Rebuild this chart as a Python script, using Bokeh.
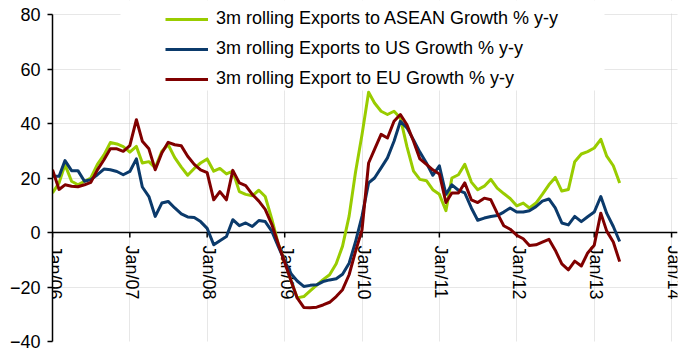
import math
from datetime import datetime
import pandas as pd
from bokeh.plotting import figure
from bokeh.models import (Range1d, FixedTicker, Span, Legend, LegendItem,
                          BoxAnnotation, ColumnDataSource)
from bokeh.core.properties import value
from bokeh.embed import file_html
from bokeh.resources import INLINE

# ---------------- data ----------------
months = pd.date_range("2006-01-01", periods=89, freq="MS")

asean = [14.5, 18.2, 24.9, 18.8, 17.5, 18.8, 20.0, 25.0, 28.5, 33.0,
         32.5, 31.5, 29.5, 31.6, 25.5, 26.0, 23.7, 29.8, 32.2, 27.5,
         24.0, 21.0, 23.5, 25.5, 27.0, 22.5, 23.5, 21.5, 22.5, 15.0,
         14.0, 13.5, 15.5, 13.2, 5.0, -4.0, -10.5, -18.0, -24.0, -23.5,
         -21.4, -19.3, -17.3, -15.5, -11.5, -5.0, 6.0, 22.0, 36.0, 51.5,
         47.5, 44.5, 43.3, 44.5, 42.0, 31.5, 22.5, 19.5, 19.0, 15.7,
         14.0, 8.0, 20.0, 21.2, 25.0, 18.5, 15.7, 17.0, 19.5, 16.3,
         14.3, 12.5, 9.8, 10.8, 9.0, 10.8, 14.0, 17.5, 20.2, 15.2,
         15.8, 26.0, 28.8, 29.7, 31.0, 34.2, 28.0, 24.5, 18.2]

us = [20.6, 20.6, 26.4, 22.7, 22.7, 18.8, 19.4, 21.2, 23.3, 23.0,
      22.4, 21.2, 22.4, 27.0, 16.7, 13.2, 5.9, 10.8, 11.4, 9.0,
      6.8, 5.7, 5.5, 4.0, 1.5, -4.5, -3.0, -1.5, 4.7, 2.5,
      3.5, 2.2, 4.4, 4.0, 0.5, -5.0, -10.5, -15.2, -17.8, -19.8,
      -19.4, -19.2, -18.0, -17.4, -17.0, -15.3, -11.3, -3.5, 6.0, 18.2,
      20.0, 23.7, 27.4, 33.5, 40.8, 38.4, 34.0, 29.5, 25.5, 21.0,
      24.5, 14.0, 17.5, 15.5, 14.5, 9.0, 4.5, 5.3, 5.9, 6.2,
      7.5, 9.0, 7.5, 7.5, 8.0, 9.5, 11.5, 12.3, 9.0, 3.5,
      2.8, 5.9, 4.0, 5.8, 7.5, 13.2, 7.0, 2.2, -3.3]

eu = [23.0, 15.8, 17.5, 17.0, 16.8, 17.5, 18.4, 23.0, 26.7, 30.7,
      30.7, 29.8, 31.9, 41.4, 33.5, 30.7, 23.0, 29.2, 33.1, 32.2,
      31.8, 28.0, 25.0, 23.0, 22.0, 12.0, 15.0, 12.0, 22.8, 18.2,
      17.2, 14.0, 11.5, 8.5, 3.0, -4.0, -11.0, -18.0, -24.0, -27.5,
      -27.6, -27.4, -26.6, -25.6, -23.5, -21.0, -15.5, -7.0, 1.0, 25.5,
      30.5, 36.0, 34.7, 40.8, 43.3, 39.5, 33.5, 27.0, 25.0, 23.0,
      21.5, 11.0, 14.5, 14.5, 18.2, 12.0, 11.0, 12.6, 12.0, 7.1,
      2.5, 1.2, -1.0, -2.3, -4.8, -4.5, -3.5, -2.5, -6.5, -11.5,
      -13.7, -10.5, -12.3, -7.5, -4.7, 7.1, 0.5, -3.5, -10.7]

series_names = ["3m rolling Exports to ASEAN Growth % y-y",
                "3m rolling Exports to US Growth % y-y",
                "3m rolling Export to EU Growth % y-y"]

x_tick_dates = pd.to_datetime(["2006-01-01", "2007-01-01", "2008-01-01",
                               "2009-01-01", "2010-01-01", "2011-01-01",
                               "2012-01-01", "2013-01-01", "2014-01-01"])
x_tick_labels = ["Jan/06", "Jan/07", "Jan/08", "Jan/09", "Jan/10",
                 "Jan/11", "Jan/12", "Jan/13", "Jan/14"]
y_ticks = [-40, -20, 0, 20, 40, 60, 80]

# ---------------- styles ----------------
colors = ["#99CC00", "#0B3A6B", "#800000"]
FONT = "Liberation Sans"
GRID_COLOR = "#cfcfcf"

# frame runs to the top of the canvas so the legend is not clipped;
# the axis itself is bounded to -40..80
y_top = max(y_ticks) + 14 / (327 / (max(y_ticks) - min(y_ticks)))

p = figure(width=691, height=351, x_axis_type="datetime", x_axis_location=None,
           x_range=Range1d(datetime(2006, 1, 1), datetime(2014, 1, 29)),
           y_range=Range1d(min(y_ticks), y_top),
           output_backend="svg", toolbar_location=None,
           min_border_left=52, min_border_right=14,
           min_border_top=0, min_border_bottom=10,
           outline_line_color=None)

tick_ms = [d.value // 10**6 for d in x_tick_dates]

# grids
p.xgrid.ticker = FixedTicker(ticks=tick_ms)
p.xgrid.grid_line_color = GRID_COLOR
p.xgrid.grid_line_dash = "1 1"
p.ygrid.ticker = FixedTicker(ticks=y_ticks)
p.ygrid.grid_line_color = GRID_COLOR
p.ygrid.grid_line_dash = "1 1"

# white areas: behind the legend and above the top gridline
p.add_layout(BoxAnnotation(left=120, right=604, top=0, bottom=90,
                           left_units="canvas", right_units="canvas",
                           top_units="canvas", bottom_units="canvas",
                           fill_color="white", fill_alpha=1.0,
                           line_color=None, level="underlay"))
p.add_layout(BoxAnnotation(left=0, right=691, top=0, bottom=13,
                           left_units="canvas", right_units="canvas",
                           top_units="canvas", bottom_units="canvas",
                           fill_color="white", fill_alpha=1.0,
                           line_color=None, level="underlay"))

# y axis
ya = p.yaxis[0]
ya.ticker = FixedTicker(ticks=y_ticks)
ya.bounds = (min(y_ticks), max(y_ticks))
ya.axis_line_color = "black"
ya.axis_line_width = 1.5
ya.major_tick_line_color = "black"
ya.major_tick_line_width = 1.5
ya.major_tick_out = 5
ya.major_tick_in = 0
ya.minor_tick_line_color = None
ya.major_label_standoff = 7
ya.major_label_text_font = FONT
ya.major_label_text_font_size = "18px"
ya.major_label_text_color = "black"

# x axis drawn at y = 0
p.add_layout(Span(location=0, dimension="width", line_color="black",
                  line_width=1.5, level="underlay"))
p.ray(x=x_tick_dates, y=0, length=5, length_units="screen",
      angle=-math.pi / 2, line_color="black", line_width=1.5)
lab_src = ColumnDataSource(dict(x=x_tick_dates, text=x_tick_labels))
p.text(x="x", y=0, text="text", source=lab_src, angle=-math.pi / 2,
       text_align="left", text_baseline="middle", x_offset=2, y_offset=13,
       text_font=value(FONT), text_font_size="18px", text_color="black")

# series
renderers = []
for vals, col in zip([asean, us, eu], colors):
    r = p.line(x=months, y=vals, line_color=col, line_width=3,
               line_join="round")
    renderers.append(r)

legend = Legend(items=[LegendItem(label=n, renderers=[r])
                       for n, r in zip(series_names, renderers)],
                location=(113, 252), padding=0, margin=0, spacing=9,
                glyph_width=43, glyph_height=20, label_height=20,
                label_standoff=8, label_text_font=FONT,
                label_text_font_size="18px", label_text_color="black",
                border_line_color=None, background_fill_alpha=0)
p.add_layout(legend)

open("out.html", "w").write(file_html(p, INLINE))
